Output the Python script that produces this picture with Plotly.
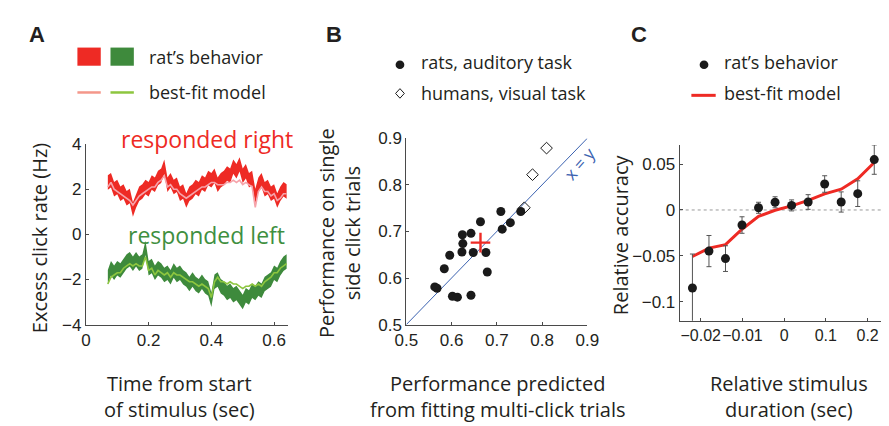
import plotly.graph_objects as go

W, H = 889, 426


def px(x):
    return x / W


def py(y):
    return 1 - y / H


# ---------------- Panel A data ----------------
time_s = [round(0.07 + 0.01 * i, 2) for i in range(58)]
right_behavior = [2.3, 2.4, 2.0, 2.1, 1.8, 1.9, 1.6, 1.7, 1.1, 1.5,
                  1.8, 1.9, 2.1, 2.0, 2.3, 2.2, 2.5, 2.6, 3.0, 2.2,
                  2.4, 2.1, 2.2, 1.8, 1.9, 1.5, 1.8, 1.9, 2.1, 2.0,
                  2.3, 2.2, 2.5, 2.4, 2.6, 2.2, 2.4, 2.5, 2.7, 2.6,
                  3.0, 2.8, 3.1, 2.6, 2.8, 2.4, 2.5, 1.7, 2.2, 2.4,
                  2.0, 2.1, 1.8, 1.9, 1.5, 1.8, 2.0, 1.9]
right_model = [2.1, 2.3, 2.0, 1.9, 1.8, 1.7, 1.6, 1.5, 1.3, 1.5,
               1.7, 1.8, 1.9, 2.0, 2.1, 2.1, 2.3, 2.4, 2.6, 2.1,
               2.2, 2.0, 2.0, 1.8, 1.7, 1.6, 1.7, 1.8, 1.9, 2.0,
               2.1, 2.1, 2.2, 2.3, 2.3, 2.2, 2.2, 2.2, 2.3, 2.3,
               2.4, 2.3, 2.4, 2.2, 2.3, 2.2, 2.1, 1.2, 1.9, 2.1,
               1.9, 1.9, 1.7, 1.8, 1.5, 1.6, 1.8, 1.8]
left_behavior = [-1.9, -1.5, -1.7, -1.5, -1.6, -1.4, -1.2, -1.1, -1.3, -1.1,
                 -1.3, -1.2, -0.6, -1.5, -1.4, -1.7, -1.5, -1.6, -1.8, -1.7,
                 -1.9, -1.6, -1.8, -1.7, -1.9, -2.0, -2.2, -2.0, -2.2, -2.3,
                 -2.1, -2.3, -2.4, -2.9, -2.1, -2.0, -2.3, -2.4, -2.6, -2.5,
                 -2.7, -2.6, -2.8, -3.0, -2.7, -2.8, -2.5, -2.6, -2.4, -2.5,
                 -2.2, -2.1, -2.0, -1.7, -1.8, -1.5, -1.3, -1.2]
left_model = [-2.2, -1.9, -1.8, -1.7, -1.7, -1.5, -1.4, -1.3, -1.4, -1.3,
              -1.4, -1.4, -1.0, -1.6, -1.5, -1.8, -1.6, -1.7, -1.8, -1.7,
              -1.9, -1.7, -1.8, -1.8, -1.9, -2.0, -2.1, -2.1, -2.2, -2.3,
              -2.2, -2.3, -2.4, -2.8, -2.1, -1.9, -2.1, -2.1, -2.2, -2.1,
              -2.2, -2.2, -2.3, -2.4, -2.3, -2.3, -2.2, -2.3, -2.2, -2.3,
              -2.1, -2.0, -1.9, -1.7, -1.7, -1.5, -1.4, -1.3]
band_halfwidth_hz = 0.32

# ---------------- Panel B data ----------------
rats_predicted = [0.563, 0.568, 0.584, 0.596, 0.602, 0.613, 0.624, 0.625, 0.623, 0.643,
                  0.643, 0.648, 0.664, 0.676, 0.679, 0.709, 0.712, 0.730, 0.753]
rats_single = [0.581, 0.578, 0.620, 0.649, 0.561, 0.559, 0.693, 0.674, 0.656, 0.696,
               0.563, 0.655, 0.721, 0.655, 0.613, 0.743, 0.705, 0.719, 0.743]
rats_mean = [0.664, 0.676]
humans_predicted = [0.761, 0.779, 0.810]
humans_single = [0.751, 0.822, 0.879]
identity_line = [0.5, 0.9]

# ---------------- Panel C data ----------------
duration_bin = [0, 1, 2, 3, 4, 5, 6, 7, 8, 9, 10, 11]
relative_accuracy = [-0.085, -0.0448, -0.053, -0.0164, 0.0024, 0.0084,
                     0.005, 0.0087, 0.0283, 0.0087, 0.0178, 0.0549]
relative_accuracy_err = [0.037, 0.017, 0.014, 0.009, 0.006, 0.006,
                         0.006, 0.008, 0.009, 0.011, 0.014, 0.016]
model_accuracy = [-0.0507, -0.0416, -0.0378, -0.021, -0.007, -0.0003,
                  0.0045, 0.0105, 0.0175, 0.0227, 0.034, 0.0518]
duration_tick_pos = [0.5, 3.03, 5.55, 8.07, 10.6]
duration_tick_text = ["\u22120.02", "\u22120.01", "0", "0.1", "0.2"]

RED = "#ee2a24"
PINK = "#f6a3aa"
DKGREEN = "#3e8a3c"
LTGREEN = "#8dc63f"
TXT = "#231f20"
AX = "#4a4a4a"
BLUE = "#3b62b0"
TITLE_FONT = "Open Sans"
TICK_FONT = "Liberation Sans"

fig = go.Figure()


def band(x, center, color, axis):
    hi = [c + band_halfwidth_hz for c in center]
    lo = [c - band_halfwidth_hz for c in center]
    return go.Scatter(x=x + x[::-1], y=hi + lo[::-1], fill="toself", fillcolor=color,
                      line=dict(width=0), mode="lines", hoverinfo="skip",
                      xaxis=axis[0], yaxis=axis[1], showlegend=False)


fig.add_trace(band(time_s, right_behavior, RED, ("x", "y")))
fig.add_trace(go.Scatter(x=time_s, y=right_model, mode="lines",
                         line=dict(color=PINK, width=1.6), showlegend=False))
fig.add_trace(band(time_s, left_behavior, DKGREEN, ("x", "y")))
fig.add_trace(go.Scatter(x=time_s, y=left_model, mode="lines",
                         line=dict(color=LTGREEN, width=1.6), showlegend=False))

# Panel B
fig.add_trace(go.Scatter(x=identity_line, y=identity_line, mode="lines",
                         line=dict(color=BLUE, width=1), xaxis="x2", yaxis="y2",
                         showlegend=False))
fig.add_trace(go.Scatter(x=rats_predicted, y=rats_single, mode="markers",
                         marker=dict(color="#1a1a1a", size=9), xaxis="x2", yaxis="y2",
                         showlegend=False))
fig.add_trace(go.Scatter(x=humans_predicted, y=humans_single, mode="markers",
                         marker=dict(symbol="diamond-open", color="#1a1a1a", size=9,
                                     line=dict(width=1, color="#1a1a1a")),
                         xaxis="x2", yaxis="y2", showlegend=False))
fig.add_trace(go.Scatter(x=[rats_mean[0]], y=[rats_mean[1]], mode="markers",
                         marker=dict(symbol="cross-thin-open", size=14, color=RED,
                                     line=dict(color=RED, width=2.4)),
                         xaxis="x2", yaxis="y2", showlegend=False))

# Panel C
fig.add_trace(go.Scatter(x=duration_bin, y=model_accuracy, mode="lines",
                         line=dict(color=RED, width=3), xaxis="x3", yaxis="y3",
                         showlegend=False))
fig.add_trace(go.Scatter(x=duration_bin, y=relative_accuracy, mode="markers",
                         marker=dict(color="#1a1a1a", size=9),
                         error_y=dict(type="data", array=relative_accuracy_err,
                                      color="#555555", thickness=1, width=2.5),
                         xaxis="x3", yaxis="y3", showlegend=False))

axis_common = dict(showline=True, linecolor=AX, linewidth=1, ticks="inside",
                   ticklen=3, tickcolor=AX, showgrid=False, zeroline=False,
                   tickangle=0,
                   tickfont=dict(family=TICK_FONT, size=17, color=TXT), mirror=False)

fig.update_layout(
    width=W, height=H, autosize=False,
    margin=dict(l=0, r=0, t=0, b=0),
    paper_bgcolor="white", plot_bgcolor="white",
    showlegend=False,
    xaxis=dict(domain=[px(67.7), px(275)], range=[0, 0.643],
               tickvals=[0, 0.2, 0.4, 0.6], ticktext=["0", "0.2", "0.4", "0.6"],
               anchor="y", **axis_common),
    yaxis=dict(domain=[py(322), py(133)], range=[-4, 4],
               tickvals=[-4, -2, 0, 2, 4], anchor="x", **axis_common),
    xaxis2=dict(domain=[px(397), px(583)], range=[0.5, 0.9],
                tickvals=[0.5, 0.6, 0.7, 0.8, 0.9], ticktext=["0.5", "0.6", "0.7", "0.8", "0.9"],
                anchor="y2", **axis_common),
    yaxis2=dict(domain=[py(322), py(127)], range=[0.5, 0.9],
                tickvals=[0.5, 0.6, 0.7, 0.8, 0.9], ticktext=["0.5", "0.6", "0.7", "0.8", "0.9"],
                anchor="x2", **axis_common),
    yaxis3=dict(domain=[py(318), py(134)], range=[-0.1208, 0.0708],
                tickvals=[-0.1, -0.05, 0, 0.05], ticktext=["\u22120.1", "\u22120.05", "0", "0.05"],
                anchor="x3", **axis_common),
)
axis_c = dict(axis_common)
axis_c["tickfont"] = dict(family=TICK_FONT, size=16, color=TXT)
fig.update_layout(xaxis3=dict(domain=[px(678), px(889)], range=[-0.77, 11.65],
                              tickvals=duration_tick_pos, ticktext=duration_tick_text,
                              anchor="y3", **axis_c))

# dotted zero line in C
fig.add_shape(type="line", xref="x3", yref="y3", x0=-0.77, x1=11.65, y0=0, y1=0,
              line=dict(color="#999999", width=1, dash="dot"), layer="below")

ann = []


def text(x, y, s, size, color=TXT, family=TITLE_FONT, xanchor="center", angle=0, bold=False):
    ann.append(dict(x=px(x), y=py(y), xref="paper", yref="paper", text=("<b>%s</b>" % s) if bold else s,
                    showarrow=False, xanchor=xanchor, yanchor="middle", textangle=angle,
                    font=dict(family=family, size=size, color=color)))


# panel letters
text(17, 18, "A", 22, family="Liberation Sans", bold=True)
text(323, 18, "B", 22, family="Liberation Sans", bold=True)
text(636, 18, "C", 22, family="Liberation Sans", bold=True)

# Legend A
fig.add_shape(type="rect", xref="paper", yref="paper", x0=px(59), x1=px(83), y0=py(51), y1=py(32),
              fillcolor=RED, line=dict(width=0))
fig.add_shape(type="rect", xref="paper", yref="paper", x0=px(93), x1=px(117), y0=py(51), y1=py(32),
              fillcolor=DKGREEN, line=dict(width=0))
fig.add_shape(type="line", xref="paper", yref="paper", x0=px(59), x1=px(83), y0=py(79), y1=py(79),
              line=dict(color="#f4978a", width=2.5))
fig.add_shape(type="line", xref="paper", yref="paper", x0=px(93), x1=px(117), y0=py(79), y1=py(79),
              line=dict(color=LTGREEN, width=2.5))
text(131, 42, "rat\u2019s behavior", 18, xanchor="left")
text(131, 78, "best-fit model", 18, xanchor="left")
text(192, 128, "responded right", 23, color=RED)
text(192, 228, "responded left", 23, color="#3f8f3f")

# Legend B
fig.add_shape(type="circle", xref="paper", yref="paper", x0=px(386), x1=px(395), y0=py(54.5), y1=py(45.5),
              fillcolor="#1a1a1a", line=dict(width=0))
fig.add_shape(type="path", xref="paper", yref="paper",
              path="M %f %f L %f %f L %f %f L %f %f Z" % (px(390.5), py(75), px(395), py(80),
                                                         px(390.5), py(85), px(386), py(80)),
              line=dict(color="#1a1a1a", width=1))
text(410, 47, "rats, auditory task", 18, xanchor="left")
text(410, 80, "humans, visual task", 18, xanchor="left")

# Legend C
fig.add_shape(type="circle", xref="paper", yref="paper", x0=px(698.5), x1=px(707.5), y0=py(54.5), y1=py(45.5),
              fillcolor="#1a1a1a", line=dict(width=0))
fig.add_shape(type="line", xref="paper", yref="paper", x0=px(690), x1=px(715), y0=py(82), y1=py(82),
              line=dict(color=RED, width=3))
text(721, 47, "rat\u2019s behavior", 18, xanchor="left")
text(721, 80, "best-fit model", 18, xanchor="left")

# x = y label
text(575, 153, "x = y", 17, color=BLUE, angle=-49)

# axis titles
text(20, 231, "Excess click rate (Hz)", 20, angle=-90)
text(164, 397, "Time from start<br>of stimulus (sec)", 20)
text(329, 226, "Performance on single<br>side click trials", 20, angle=-90)
text(491, 397, "Performance predicted<br>from fitting multi-click trials", 20)
text(617, 228, "Relative accuracy", 20, angle=-90)
text(790, 397, "Relative stimulus<br>duration (sec)", 20)

fig.update_layout(annotations=ann)
fig.write_html("out.html")
